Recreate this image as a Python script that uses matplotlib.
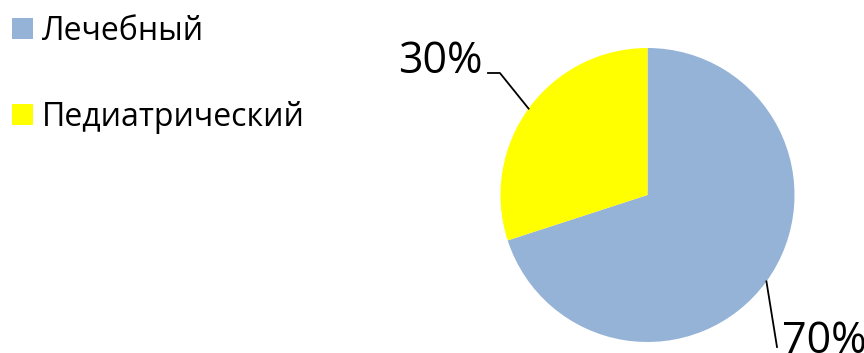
import numpy as np
import matplotlib
matplotlib.use("Agg")
import matplotlib.pyplot as plt
from matplotlib.patches import Patch

plt.rcParams['font.family'] = ['Open Sans', 'DejaVu Sans']

# данные
categories = ["Лечебный", "Педиатрический"]
values = [70, 30]
colors = ["#95b3d7", "#ffff00"]

W, H = 864, 353
fig = plt.figure(figsize=(W / 100, H / 100), dpi=100)

# круг: центр (647.5, 195) px, радиус 147 px
cx, cy, r = 647.5, 195, 147
ax = fig.add_axes([(cx - r) / W, (H - cy - r) / H, 2 * r / W, 2 * r / H])
wedges, _ = ax.pie(values, colors=colors, startangle=90, counterclock=False,
                   radius=1, wedgeprops=dict(linewidth=0))
ax.set_xlim(-1, 1)
ax.set_ylim(-1, 1)
ax.set_aspect('equal')
ax.axis('off')

# подписи с выносками
for w, v in zip(wedges, values):
    mid = np.deg2rad((w.theta1 + w.theta2) / 2)
    ex, ey = np.cos(mid), np.sin(mid)
    if ex < 0:
        # слева сверху: ломаная выноска
        ax.plot([ex, -1.004, -1.085], [ey, 0.83, 0.83], color='black', lw=1.3,
                clip_on=False)
        ax.text(-1.12, 0.83, f"{v}%", ha='right', va='baseline', fontsize=31)
    else:
        ax.plot([ex, 0.881], [ey, -1.034], color='black', lw=1.3, clip_on=False)
        ax.text(0.915, -1.075, f"{v}%", ha='left', va='baseline', fontsize=31)

handles = [Patch(facecolor=c, edgecolor='none') for c in colors]
fig.legend(handles, categories, loc='upper left',
           bbox_to_anchor=(12 / W, 1 - 15 / H), frameon=False,
           borderaxespad=0, borderpad=0, fontsize=23,
           handlelength=0.65, handleheight=0.65, handletextpad=0.3,
           labelspacing=1.65)

fig.savefig("out.png", dpi=100)
